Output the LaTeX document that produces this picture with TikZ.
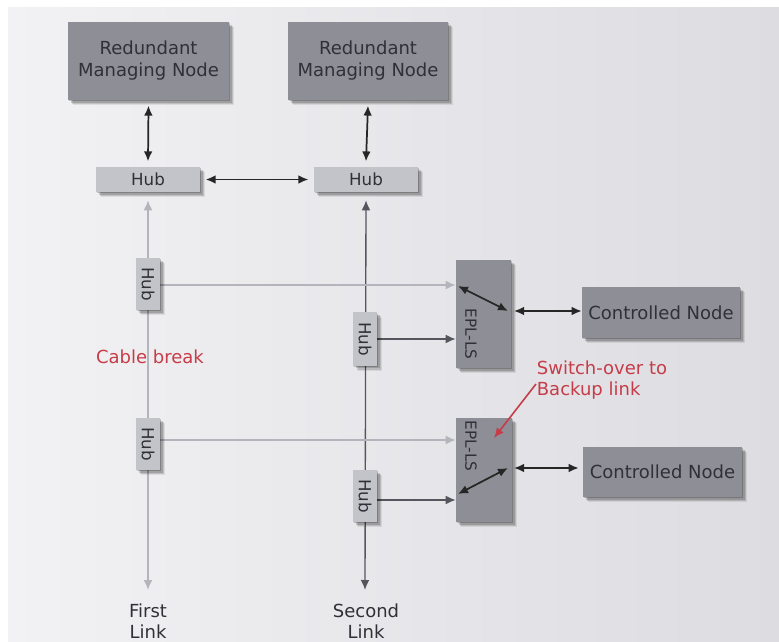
\documentclass[tikz,border=0pt]{standalone}
\usepackage{fontspec}
\setmainfont{DejaVu Sans}
\usetikzlibrary{arrows.meta,backgrounds}
\definecolor{panelL}{HTML}{F2F2F4}
\definecolor{panelR}{HTML}{DCDCE1}
\definecolor{boxgray}{HTML}{8E8E96}
\definecolor{hubgray}{HTML}{C3C3CA}
\definecolor{inkgray}{HTML}{303038}
\definecolor{linklight}{HTML}{B4B4BC}
\definecolor{linkdark}{HTML}{55555D}
\definecolor{alertred}{HTML}{C63C48}
\pgfdeclarelayer{bg}
\pgfdeclarelayer{wires}
\pgfsetlayers{bg,wires,main}
\tikzset{
  % soft drop shadow built from a few offset translucent copies
  shade/.style={
    preaction={fill=black, opacity=0.08, rounded corners=4pt, transform canvas={shift={(4pt,-4pt)}}},
    preaction={fill=black, opacity=0.12, rounded corners=3pt, transform canvas={shift={(3pt,-3pt)}}},
    preaction={fill=black, opacity=0.16, rounded corners=2pt, transform canvas={shift={(2pt,-2pt)}}},
    preaction={fill=black, opacity=0.20, rounded corners=1pt, transform canvas={shift={(1pt,-1pt)}}}},
  bigbox/.style={shade, fill=boxgray, draw=none, text=inkgray, align=center, inner sep=0pt,
    font=\fontsize{13.5}{16.5}\selectfont},
  hubbox/.style={shade, fill=hubgray, draw=none, text=inkgray, inner sep=0pt,
    font=\fontsize{12.5}{14}\selectfont},
  tip/.style={-{Latex[length=7.5pt,width=6.5pt]}},
  dtip/.style={{Latex[length=7.5pt,width=6.5pt]}-{Latex[length=7.5pt,width=6.5pt]}},
  blackline/.style={draw=black!85, line width=1.3pt},
  lightline/.style={draw=linklight, line width=1pt},
  darkline/.style={draw=linkdark, line width=1pt},
  lbl/.style={text=inkgray, align=center, font=\fontsize{13.5}{16}\selectfont},
  redlbl/.style={text=alertred, align=left, font=\fontsize{13.5}{15.5}\selectfont},
  epltext/.style={text=inkgray, font=\fontsize{11.5}{13}\selectfont, rotate=-90},
}
\begin{document}
\begin{tikzpicture}[x=0.75pt, y=-0.75pt]
\useasboundingbox (0,0) rectangle (779,642);
\begin{pgfonlayer}{bg}
  \fill[white] (0,0) rectangle (779,642);
  \shade[left color=panelL, right color=panelR] (8,8) rectangle (779,642);
\end{pgfonlayer}

% managing nodes and their hubs
\node[bigbox, minimum width=120.75pt, minimum height=58.5pt] (rmn1) at (148.5,61) {Redundant\\Managing Node};
\node[bigbox, minimum width=120pt, minimum height=58.5pt] (rmn2) at (368,61) {Redundant\\Managing Node};
\node[hubbox, minimum width=78pt, minimum height=18.75pt] (hub1) at (148,179.5) {Hub};
\node[hubbox, minimum width=78pt, minimum height=18.75pt] (hub2) at (366,179.5) {Hub};

% hubs along the two links
\node[hubbox, minimum width=18pt, minimum height=39pt] (va) at (148,284) {\rotatebox{-90}{Hub}};
\node[hubbox, minimum width=18pt, minimum height=39pt] (vb) at (148,444) {\rotatebox{-90}{Hub}};
\node[hubbox, minimum width=18pt, minimum height=40pt] (vc) at (365,339) {\rotatebox{-90}{Hub}};
\node[hubbox, minimum width=18pt, minimum height=39pt] (vd) at (365,496) {\rotatebox{-90}{Hub}};

% link selectors
\node[bigbox, minimum width=41.25pt, minimum height=81pt] (epl1) at (483.5,314) {};
\node[bigbox, minimum width=42pt, minimum height=78pt] (epl2) at (484,470) {};
\node[epltext] (t1) at (471,334) {EPL-LS};
\node[epltext] (t2) at (471,446) {EPL-LS};

% controlled nodes
\node[bigbox, minimum width=118.5pt, minimum height=38.25pt] (cn1) at (661,312.5) {Controlled Node};
\node[bigbox, minimum width=119.25pt, minimum height=37.5pt] (cn2) at (662.5,472) {Controlled Node};

% switch points inside the selectors
\coordinate (s1a) at (458,286);
\coordinate (s1b) at (508,311);
\coordinate (s2a) at (458,494);
\coordinate (s2b) at (508,468);
\coordinate (s1c) at (514,311);
\coordinate (s2c) at (514,468);
\coordinate (fl) at (148,590);
\coordinate (sl) at (365,590);

\begin{pgfonlayer}{wires}
  % the two redundant links
  \draw[lightline, dtip] ([yshift=-6pt]hub1.south) -- (fl);
  \draw[darkline, dtip] ([yshift=-6pt]hub2.south) -- (sl);
  % branches to the selectors
  \draw[lightline, tip] ([yshift=-0.75pt]va.east) -- ([yshift=-0.75pt]va.east -| epl1.west);
  \draw[darkline, tip] (vc.east) -- (vc.east -| epl1.west);
  \draw[lightline, tip] ([yshift=3pt]vb.east) -- ([yshift=3pt]vb.east -| epl2.west);
  \draw[darkline, tip] ([yshift=-3pt]vd.east) -- ([yshift=-3pt]vd.east -| epl2.west);
\end{pgfonlayer}

% connections between managing nodes and hubs
\draw[blackline, dtip] ([yshift=-4pt]rmn1.south) -- ([yshift=4pt]hub1.north);
\draw[blackline, dtip] ([yshift=-4pt]rmn2.south) -- ([yshift=4pt]hub2.north);
\draw[blackline, dtip] ([xshift=4pt]hub1.east) -- ([xshift=-4pt]hub2.west);

% switches and links to the controlled nodes
\draw[blackline, dtip] (s1a) -- (s1b);
\draw[blackline, dtip] (s2a) -- (s2b);
\draw[blackline, dtip] (s1c) -- (s1c -| cn1.west);
\draw[blackline, dtip] (s2c) -- ([xshift=-3pt]s2c -| cn2.west);

% annotations
\node[redlbl] (cb) at (150,357) {Cable break};
\node[redlbl] (sw) at (602,380) {Switch-over to\\Backup link};
\draw[alertred, line width=1.2pt, tip] (536,384) -- (494,438);

\node[lbl] (fll) at (148,621) {First\\Link};
\node[lbl] (sll) at (366,621) {Second\\Link};
\end{tikzpicture}
\end{document}
